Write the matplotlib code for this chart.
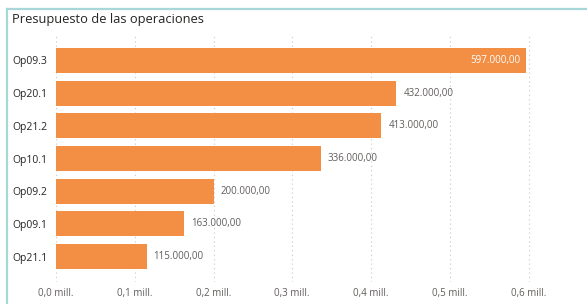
import matplotlib.pyplot as plt
from matplotlib.lines import Line2D

categories = ["Op09.3", "Op20.1", "Op21.2", "Op10.1", "Op09.2", "Op09.1", "Op21.1"]
values = [597000, 432000, 413000, 336000, 200000, 163000, 115000]
xticks = [0, 100000, 200000, 300000, 400000, 500000, 600000]
xtick_labels = ["0,0 mill.", "0,1 mill.", "0,2 mill.", "0,3 mill.", "0,4 mill.", "0,5 mill.", "0,6 mill."]

def fmt(v):
    return "{:,.2f}".format(v).replace(",", " ").replace(".", ",").replace(" ", ".")

plt.rcParams['font.family'] = ['Open Sans', 'DejaVu Sans']
bar_color = "#F28F45"
text_color = "#605E5C"
border = "#A9D6D9"

fig = plt.figure(figsize=(5.87, 3.04), dpi=100)
# visual border: top and left edges only
top_y = 1 - 8.5 / 304
left_x = 7 / 587
fig.lines.append(Line2D([left_x, 1.0], [top_y, top_y], transform=fig.transFigure,
                        color=border, linewidth=1.6))
fig.lines.append(Line2D([left_x, left_x], [0.0, top_y], transform=fig.transFigure,
                        color=border, linewidth=1.6))

ax = fig.add_axes([56/587, 22/304, 504/587, 247/304])

y = list(range(len(categories)))
ax.barh(y, values, height=0.76, color=bar_color, zorder=2)
ax.set_ylim(6.78, -0.78)
ax.set_xlim(0, 640000)

for i, v in enumerate(values):
    if v > 550000:
        ax.text(v - 7000, i, fmt(v), ha="right", va="center", color="white", fontsize=7)
    else:
        ax.text(v + 9000, i, fmt(v), ha="left", va="center", color=text_color, fontsize=7)

ax.set_yticks(y)
ax.set_yticklabels(categories, fontsize=7.5, color="#252423")
ax.set_xticks(xticks)
ax.set_xticklabels(xtick_labels, fontsize=7, color=text_color)
ax.tick_params(length=0)
ax.tick_params(axis="x", pad=4)
ax.tick_params(axis="y", pad=6)
ax.xaxis.grid(True, linestyle=(0, (1, 3)), color="#C8C8C8", linewidth=0.8, zorder=0)
for s in ax.spines.values():
    s.set_visible(False)

fig.text(12/587, 1 - 19.5/304, "Presupuesto de las operaciones", fontsize=9.3,
         color="#252423", va="center", ha="left")

fig.savefig("out.png", dpi=100)
